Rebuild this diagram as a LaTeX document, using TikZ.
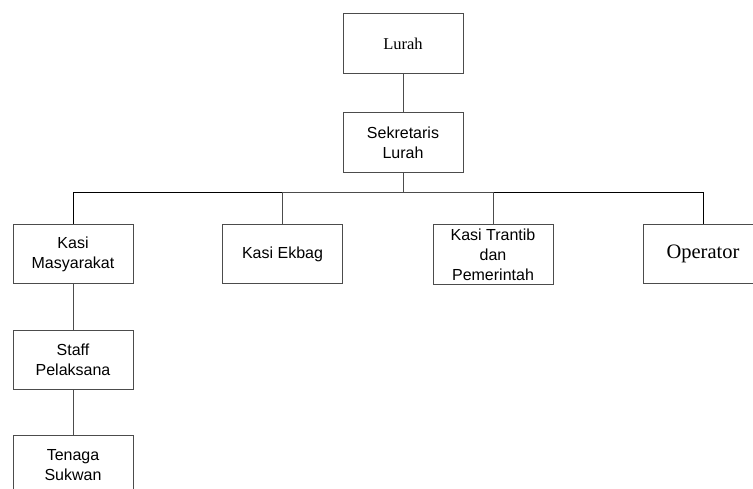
\documentclass[tikz,border=0pt]{standalone}
\usepackage{fontspec}
\setmainfont{Liberation Serif}
\setsansfont{Liberation Sans}
\usetikzlibrary{positioning}

\begin{document}
\begin{tikzpicture}[
	x = 1pt, y = -1pt, % pixel like units
	line width = 0.9pt, % line style
	box/.style={rectangle, draw=black!70, fill=white, inner sep=0pt, minimum width=120pt, minimum height=59.5pt, align=center, font=\sffamily\fontsize{16}{20}\selectfont},  %sans boxes
	rbox/.style={box, font=\rmfamily\fontsize{16.5}{20}\selectfont},                                                                                                        %serif boxes
	link/.style={draw=black!70},
	]
	\useasboundingbox (0,0) rectangle (753,488);

	% Nodes and their positions
	\node[rbox] (lurah) at (403,43.5) {Lurah};
	\node[box] (sek) at (403,142.5) {Sekretaris\\Lurah};
	\coordinate (bus) at (403,192);
	\node[box] (kmas) at (73,254) {Kasi\\Masyarakat};
	\node[box] (kekb) at (282.5,254) {Kasi Ekbag};
	\node[box] (ktrn) at (493,254.5) {Kasi Trantib\\dan\\Pemerintah};
	\node[rbox, font=\rmfamily\fontsize{20.5}{24}\selectfont] (opr) at (703,254) {Operator};
	\node[box] (staff) at (73,360) {Staff\\Pelaksana};
	\node[box] (sukwan) at (73,465) {Tenaga\\Sukwan};

	% Paths connecting nodes
	\path[link] (lurah) -- (sek);
	\path[link] (sek) -- (bus);
	\path[draw=black] (bus) -| (kmas);
	\path[link] (bus) -| (kekb);
	\path[draw=black] (bus) -| (opr);
	\path[link] (bus) -| (ktrn);
	\path[link] (kmas) -- (staff);
	\path[link] (staff) -- (sukwan);
\end{tikzpicture}
\end{document}
